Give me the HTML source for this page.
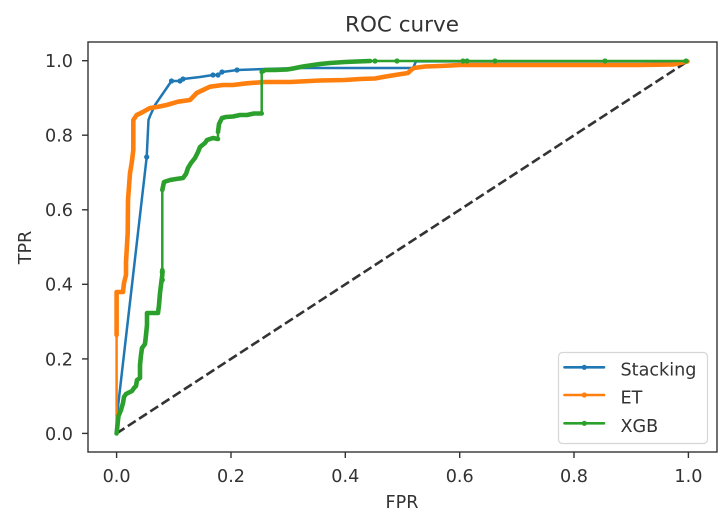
<!DOCTYPE html>
<html>
<head>
<meta charset="utf-8">
<style>
html,body{margin:0;padding:0;background:#fff;}
svg{display:block;}
text{font-family:"DejaVu Sans","Liberation Sans",sans-serif;fill:#333;}
</style>
</head>
<body>
<svg width="725" height="514" viewBox="0 0 725 514" xmlns="http://www.w3.org/2000/svg">
<rect x="0" y="0" width="725" height="514" fill="#fff"/>

<!-- title -->
<text x="402" y="31.5" font-size="21.5" text-anchor="middle">ROC curve</text>

<!-- diagonal -->
<line x1="116.6" y1="433.4" x2="687.5" y2="61.4" stroke="#333" stroke-width="2.6" stroke-dasharray="9.4 4"/>

<!-- Stacking (blue) -->
<g fill="none" stroke="#1f77b4" stroke-linejoin="round" stroke-linecap="round">
<polyline stroke-width="2.5" points="116.6,433.4 117.6,410 146.7,157 148.5,120 150,116 155,105 171.5,81 180,81 183,79 200,77 213,75 218,75 222,72 230,71 237,70 265,69 300,68 413,68 416,61.4 687.5,61.4"/>
</g>
<g fill="#1f77b4">
<circle cx="146.7" cy="157" r="2.6"/><circle cx="171.5" cy="81" r="2.6"/><circle cx="180" cy="81" r="2.6"/>
<circle cx="183" cy="79" r="2.6"/><circle cx="213" cy="75" r="2.6"/><circle cx="218" cy="75" r="2.6"/>
<circle cx="222" cy="72" r="2.6"/><circle cx="237" cy="70" r="2.6"/><circle cx="117.5" cy="415" r="2.2"/>
</g>

<!-- ET (orange) -->
<g fill="none" stroke="#ff7f0e" stroke-linejoin="round" stroke-linecap="round">
<polyline stroke-width="2.5" points="116.6,433.4 116.6,335"/>
<polyline stroke-width="4.6" points="116.6,335 116.6,292 123,292 124,283 126,275 126,262 127.7,233 128,200 130,173 131.7,163 133.3,150 133.3,120 136.7,115 141,113 150,108 157,107 166.7,105 178,101.7 190,100 196.7,93 203,90 210,86.7 223,85 233,85 246.7,83.3 265,82 290,82 320,80.5 345,80 360,79 375,78.5 383,77 395,75 408,73 411,70 414,68 425,66.5 440,66 460,65 560,65 640,65 673,64.5 680,63 687.5,61.4"/>
</g>

<!-- XGB (green) -->
<g fill="none" stroke="#2ca02c" stroke-linejoin="round" stroke-linecap="round">
<polyline stroke-width="2.5" points="116.6,433.4 117,430 118,420 118.5,416 121,410 123,403 124,397 126,394 130,392 132,391 134,388 136,386 137,380 140,378 140,365 141,355 142,348 145,344 146,335 147,325 147,313 152,313 158,313 159,305 160,293 161,285 162.3,275 162.3,270 162.3,190 164,182 170,180 176,179 183,178 186,174 188,168 191,163 195,158 198,152 200,147 205,143 207,140 213,138 218,139 218,132 219,124 222,118 226,117 233,116.5 240,115 247,115 254,113.5 261.7,113.5 261.7,72 265,70 275,70 287,69.5 293,68.5 303,66.5 313,65 320,64 330,63 345,62 357,61.5 370,61 687.5,61"/>
<polyline stroke-width="4.6" points="116.6,433.4 117,430 118,420 118.5,416 121,410 123,403 124,397 126,394 130,392 132,391 134,388 136,386 137,380 140,378 140,365 141,355 142,348 145,344 146,335 147,325 147,313 152,313 158,313 159,305 160,293 161,285 162.3,275 162.3,270"/>
<polyline stroke-width="4.6" points="162.3,190 164,182 170,180 176,179 183,178 186,174 188,168 191,163 195,158 198,152 200,147 205,143 207,140 213,138 218,139"/>
<polyline stroke-width="4.6" points="218,132 219,124 222,118 226,117 233,116.5 240,115 247,115 254,113.5 261.7,113.5"/>
<polyline stroke-width="4.6" points="261.7,72 265,70 275,70 287,69.5 293,68.5 303,66.5 313,65 320,64 330,63 345,62 357,61.5 370,61"/>
</g>
<g fill="#2ca02c">
<circle cx="162.3" cy="280" r="2.6"/><circle cx="162.3" cy="272" r="2.6"/>
<circle cx="375" cy="61" r="2.6"/><circle cx="397" cy="61" r="2.6"/><circle cx="463" cy="61" r="2.6"/>
<circle cx="467" cy="61" r="2.6"/><circle cx="495" cy="61" r="2.6"/><circle cx="605" cy="61" r="2.6"/>
<circle cx="686" cy="61" r="2.6"/>
</g>

<!-- axes frame -->
<rect x="88" y="42" width="629" height="410" fill="none" stroke="#333" stroke-width="1.4"/>

<!-- x ticks -->
<g stroke="#333" stroke-width="1.4">
<line x1="116.6" y1="452" x2="116.6" y2="458"/>
<line x1="231" y1="452" x2="231" y2="458"/>
<line x1="345.3" y1="452" x2="345.3" y2="458"/>
<line x1="459.7" y1="452" x2="459.7" y2="458"/>
<line x1="574" y1="452" x2="574" y2="458"/>
<line x1="688.4" y1="452" x2="688.4" y2="458"/>
<!-- y ticks -->
<line x1="82" y1="433.4" x2="88" y2="433.4"/>
<line x1="82" y1="358.9" x2="88" y2="358.9"/>
<line x1="82" y1="284.3" x2="88" y2="284.3"/>
<line x1="82" y1="209.8" x2="88" y2="209.8"/>
<line x1="82" y1="135.2" x2="88" y2="135.2"/>
<line x1="82" y1="60.7" x2="88" y2="60.7"/>
</g>
<g font-size="17.6" text-anchor="middle">
<text x="116.6" y="482">0.0</text>
<text x="231" y="482">0.2</text>
<text x="345.3" y="482">0.4</text>
<text x="459.7" y="482">0.6</text>
<text x="574" y="482">0.8</text>
<text x="688.4" y="482">1.0</text>
</g>
<g font-size="17.6" text-anchor="end">
<text x="73" y="439.8">0.0</text>
<text x="73" y="365.3">0.2</text>
<text x="73" y="290.7">0.4</text>
<text x="73" y="216.2">0.6</text>
<text x="73" y="141.6">0.8</text>
<text x="73" y="67.1">1.0</text>
</g>

<!-- axis labels -->
<text x="402" y="508" font-size="17.6" text-anchor="middle">FPR</text>
<text x="0" y="0" font-size="17.6" text-anchor="middle" transform="translate(31,247.5) rotate(-90)">TPR</text>

<!-- legend -->
<rect x="558.5" y="352.5" width="149" height="91" rx="4" ry="4" fill="#fff" fill-opacity="0.85" stroke="#d6d6d6" stroke-width="1.2"/>
<g stroke-width="2.6" stroke-linecap="round">
<line x1="564.5" y1="367.3" x2="604" y2="367.3" stroke="#1f77b4"/>
<line x1="564.5" y1="395" x2="604" y2="395" stroke="#ff7f0e"/>
<line x1="564.5" y1="423.3" x2="604" y2="423.3" stroke="#2ca02c"/>
</g>
<circle cx="584.3" cy="367.3" r="2.6" fill="#1f77b4"/>
<circle cx="584.3" cy="395" r="2.6" fill="#ff7f0e"/>
<circle cx="584.3" cy="423.3" r="2.6" fill="#2ca02c"/>
<g font-size="17.6">
<text x="620.5" y="375.5">Stacking</text>
<text x="620.5" y="403.5">ET</text>
<text x="620.5" y="432">XGB</text>
</g>
</svg>
</body>
</html>
